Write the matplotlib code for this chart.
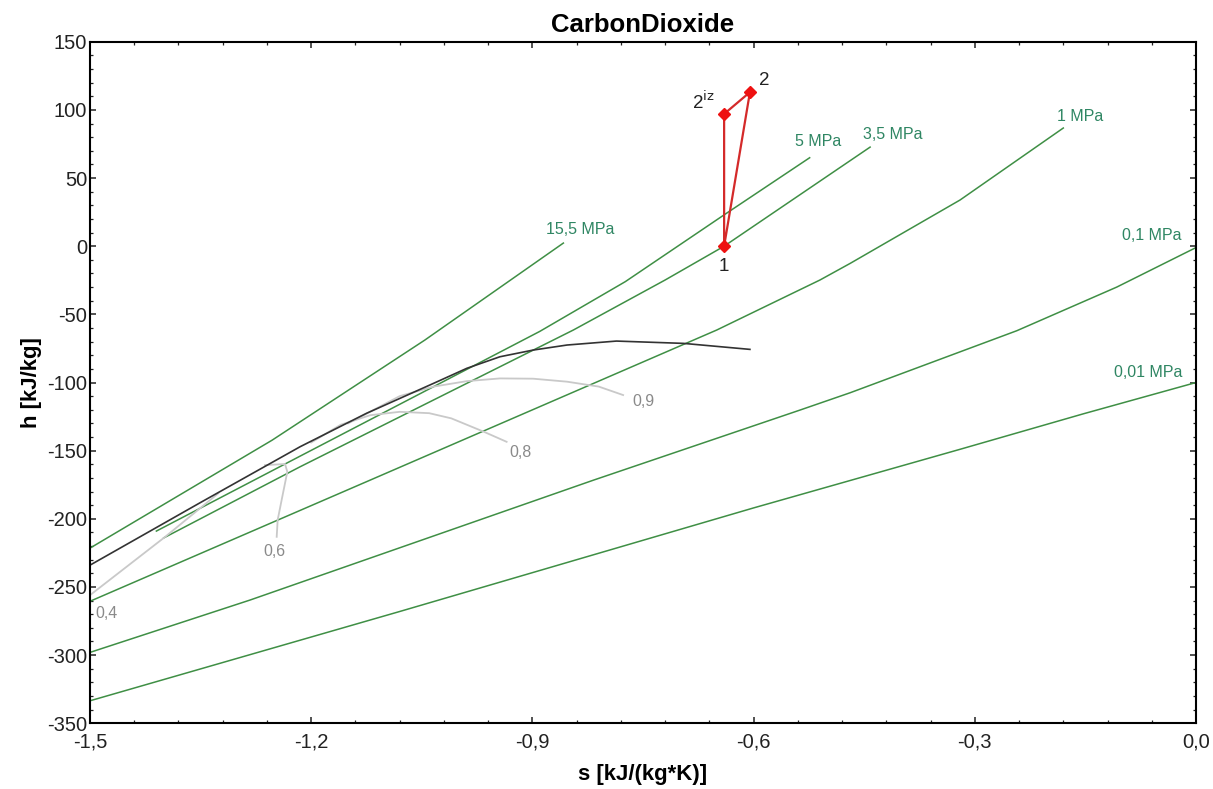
import numpy as np
import matplotlib
matplotlib.use("Agg")
import matplotlib.pyplot as plt
from matplotlib.ticker import AutoMinorLocator, FuncFormatter

plt.rcParams['font.family'] = ['Liberation Sans', 'DejaVu Sans']

# isobars: (s [kJ/(kg*K)], h [kJ/kg])
p155_s = [-1.5, -1.253, -1.046, -0.858]
p155_h = [-221.5, -142.3, -68.9, 2.3]

p5_s = [-1.41, -1.215, -0.89, -0.774, -0.64, -0.524]
p5_h = [-209.0, -154.0, -62.5, -26.0, 23.0, 64.9]

p35_s = [-1.40, -1.215, -0.8445, -0.72, -0.64, -0.442]
p35_h = [-214.0, -161.8, -61.5, -24.8, 0.0, 72.7]

p1_s = [-1.5, -1.12, -0.65, -0.51, -0.469, -0.32, -0.18]
p1_h = [-260.5, -171.6, -61.5, -24.8, -12.6, 33.9, 86.7]

p01_s = [-1.5, -1.283, -0.817, -0.537, -0.469, -0.243, -0.1075, 0.0]
p01_h = [-298.0, -259.6, -171.6, -120.2, -107.5, -62.0, -30.0, -1.0]

p001_s = [-1.5, -1.08, -0.6, -0.32, -0.153, 0.0]
p001_h = [-333.5, -268.0, -192.0, -149.0, -123.0, -100.0]

# saturation curve
sat_s = [-1.5, -1.35, -1.215, -1.125, -1.034, -0.989, -0.944, -0.899,
         -0.853, -0.786, -0.695, -0.605]
sat_h = [-234.0, -188.0, -147.1, -122.6, -100.6, -89.6, -81.1, -76.2,
         -72.5, -69.6, -71.3, -75.7]

# lines of constant quality
x04_s = [-1.52, -1.5, -1.398, -1.326]
x04_h = [-265.0, -256.0, -213.2, -181.3]

x06_s = [-1.2626, -1.2355, -1.2324, -1.2401, -1.2455, -1.2468]
x06_h = [-160.6, -159.8, -165.5, -186.2, -200.9, -213.2]

x08_s = [-1.20, -1.16, -1.12, -1.08, -1.04, -1.01, -0.966, -0.935]
x08_h = [-144.0, -131.0, -124.0, -121.5, -122.5, -126.3, -136.1, -143.5]

x09_s = [-1.15, -1.08, -1.034, -0.989, -0.944, -0.899, -0.853, -0.81, -0.777]
x09_h = [-130.0, -110.0, -103.0, -99.0, -97.0, -97.2, -99.4, -103.0, -109.2]

# compression process 1 -> 2iz -> 2 -> 1
proc_s = [-0.64, -0.64, -0.605, -0.64]
proc_h = [0.0, 97.0, 113.0, 0.0]

xticks = [-1.5, -1.2, -0.9, -0.6, -0.3, 0.0]
yticks = [-350, -300, -250, -200, -150, -100, -50, 0, 50, 100, 150]

green = '#3f8f45'
green_txt = '#2f8663'
grey = '#c9c9c9'
grey_txt = '#8a8a8a'

fig = plt.figure(figsize=(12.13, 7.89), dpi=100)
ax = fig.add_axes([0.0742, 0.0833, 0.9118, 0.8638])

for s, h in [(p155_s, p155_h), (p5_s, p5_h), (p35_s, p35_h),
             (p1_s, p1_h), (p01_s, p01_h), (p001_s, p001_h)]:
    ax.plot(s, h, color=green, lw=1.1)

for s, h in [(x04_s, x04_h), (x06_s, x06_h), (x08_s, x08_h), (x09_s, x09_h)]:
    ax.plot(s, h, color=grey, lw=1.3)

ax.plot(sat_s, sat_h, color='#333333', lw=1.2)

ax.plot(proc_s, proc_h, color='#d42a2a', lw=1.6)
ax.plot(proc_s[:3], proc_h[:3], 'D', color='#ee1111', ms=6, ls='none')

# labels
iso_labels = [('15,5 MPa', -0.8354, 12.6), ('5 MPa', -0.5126, 77.1),
              ('3,5 MPa', -0.4109, 82.3), ('1 MPa', -0.1573, 95.5),
              ('0,1 MPa', -0.0596, 7.5), ('0,01 MPa', -0.065, -92.3)]
for txt, s, h in iso_labels:
    ax.text(s, h, txt, color=green_txt, fontsize=11.5, ha='center', va='center')

q_labels = [('0,9', -0.75, -113.6), ('0,8', -0.9168, -151.7),
            ('0,6', -1.2504, -224.3), ('0,4', -1.477, -269.2)]
for txt, s, h in q_labels:
    ax.text(s, h, txt, color=grey_txt, fontsize=11.5, ha='center', va='center')

ax.text(-0.64, -14.6, '1', fontsize=13.5, ha='center', va='center', color='#222222')
ax.text(-0.5858, 121.2, '2', fontsize=13.5, ha='center', va='center', color='#222222')
ax.text(-0.6686, 105.8, r'2$^{\mathrm{iz}}$', fontsize=13.5, ha='center', va='center',
        color='#222222')

ax.set_xlim(-1.5, 0.0)
ax.set_ylim(-350, 150)
ax.set_xticks(xticks)
ax.set_yticks(yticks)
ax.xaxis.set_major_formatter(FuncFormatter(lambda v, p: ('%.1f' % v).replace('.', ',')))
ax.yaxis.set_major_formatter(FuncFormatter(lambda v, p: '%d' % v))
ax.xaxis.set_minor_locator(AutoMinorLocator(5))
ax.yaxis.set_minor_locator(AutoMinorLocator(5))
ax.tick_params(which='both', direction='in', top=True, right=True, labelsize=14.5,
               colors='#222222')
ax.tick_params(which='major', length=4, width=1.1)
ax.tick_params(which='minor', length=2.5, width=0.9)
ax.tick_params(axis='y', pad=2)
ax.tick_params(axis='x', pad=7)
for sp in ax.spines.values():
    sp.set_linewidth(1.5)

ax.set_title('CarbonDioxide', fontsize=18.5, fontweight='bold', pad=7)
ax.set_xlabel('s [kJ/(kg*K)]', fontsize=16, fontweight='bold', labelpad=9)
ax.set_ylabel('h [kJ/kg]', fontsize=16, fontweight='bold', labelpad=4)

fig.savefig('out.png', dpi=100)
